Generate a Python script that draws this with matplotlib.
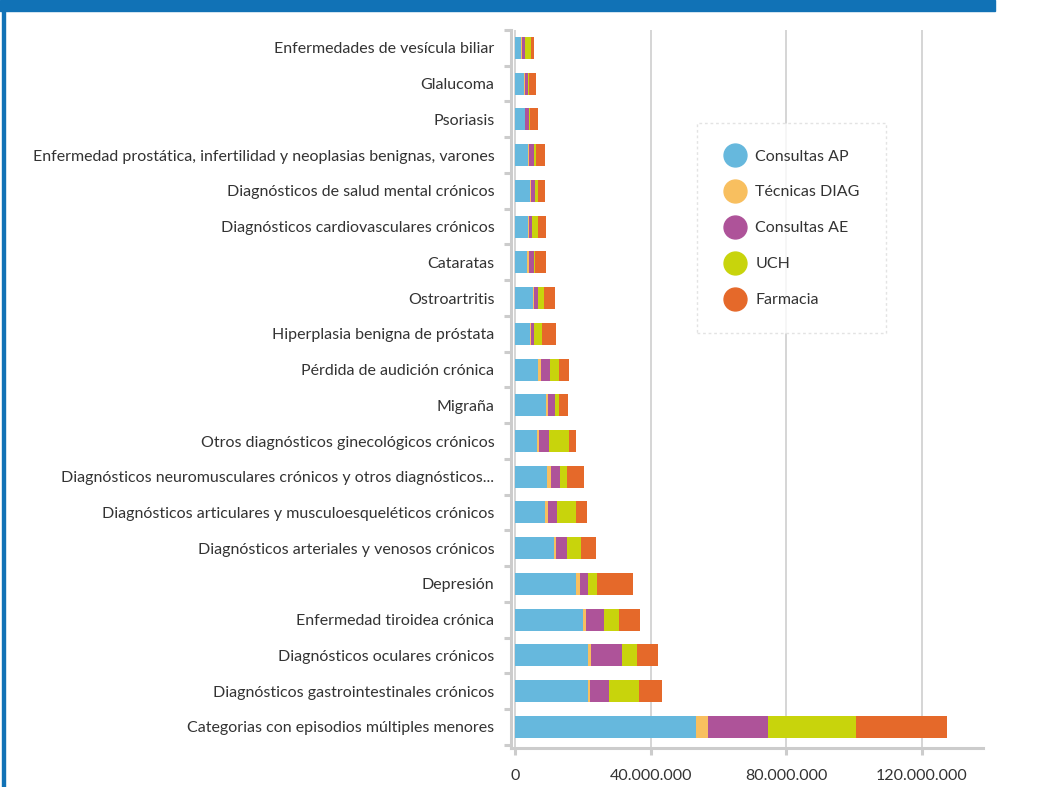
import numpy as np
import matplotlib.pyplot as plt
from matplotlib.patches import Rectangle
from matplotlib.lines import Line2D
from matplotlib.ticker import FuncFormatter

plt.rcParams['font.family'] = ['Lato', 'DejaVu Sans']

categorias = ['Enfermedades de vesícula biliar',
              'Glalucoma',
              'Psoriasis',
              'Enfermedad prostática, infertilidad y neoplasias benignas, varones',
              'Diagnósticos de salud mental crónicos',
              'Diagnósticos cardiovasculares crónicos',
              'Cataratas',
              'Ostroartritis',
              'Hiperplasia benigna de próstata',
              'Pérdida de audición crónica',
              'Migraña',
              'Otros diagnósticos ginecológicos crónicos',
              'Diagnósticos neuromusculares crónicos y otros diagnósticos...',
              'Diagnósticos articulares y musculoesqueléticos crónicos',
              'Diagnósticos arteriales y venosos crónicos',
              'Depresión',
              'Enfermedad tiroidea crónica',
              'Diagnósticos oculares crónicos',
              'Diagnósticos gastrointestinales crónicos',
              'Categorias con episodios múltiples menores']

# millones de euros
consultas_ap = [1.8, 2.7, 2.9, 3.8, 4.4, 3.8, 3.5, 5.3, 4.4, 6.8,
                9.1, 6.5, 9.4, 8.8, 11.5, 18.0, 20.1, 21.5, 21.5, 53.4]
tecnicas_diag = [0.15, 0.15, 0.15, 0.3, 0.3, 0.3, 0.6, 0.3, 0.3, 0.9,
                 0.6, 0.6, 1.2, 0.9, 0.6, 1.2, 0.9, 0.9, 0.6, 3.5]
consultas_ae = [0.9, 0.9, 1.2, 1.5, 1.2, 0.9, 1.5, 1.2, 0.9, 2.7,
                2.1, 2.9, 2.7, 2.7, 3.2, 2.4, 5.3, 9.1, 5.6, 17.7]
uch = [1.8, 0.3, 0.3, 0.6, 0.9, 1.8, 0.3, 1.8, 2.4, 2.7,
       1.2, 5.9, 2.1, 5.6, 4.1, 2.7, 4.4, 4.4, 8.8, 26.0]
farmacia = [0.9, 2.1, 2.1, 2.7, 2.1, 2.4, 3.2, 3.2, 4.1, 2.7,
            2.7, 2.1, 5.0, 3.2, 4.4, 10.6, 6.2, 6.2, 6.8, 26.8]

series = ['Consultas AP', 'Técnicas DIAG', 'Consultas AE', 'UCH', 'Farmacia']
colores = ['#66b8dd', '#f8bf5f', '#ae5399', '#c8d40c', '#e5692a']
valores = [consultas_ap, tecnicas_diag, consultas_ae, uch, farmacia]

fig = plt.figure(figsize=(10.57, 7.87), dpi=100)

# banda azul superior y borde izquierdo
fig.patches.append(Rectangle((0, 1 - 11 / 787), 995 / 1057, 11 / 787,
                             transform=fig.transFigure, color='#1172b6', zorder=0))
fig.patches.append(Rectangle((2 / 1057, 0), 3 / 1057, 1,
                             transform=fig.transFigure, color='#1172b6', zorder=0))

ax = fig.add_axes([511 / 1057, 39 / 787, 472 / 1057, 718 / 787])

y = np.arange(len(categorias))
left = np.zeros(len(categorias))
for nombre, col, vals in zip(series, colores, valores):
    v = np.array(vals) * 1e6
    ax.barh(y, v, left=left, height=0.615, color=col, label=nombre, zorder=3)
    left += v

ax.set_ylim(19.59, -0.5)
ax.set_xlim(-1.18e6, 138e6)

ax.set_yticks(y)
ax.set_yticklabels(categorias, fontsize=11.5, color='#333333')
ax.tick_params(axis='y', which='major', length=0, pad=12)
ax.set_yticks(np.arange(-0.5, 20, 1), minor=True)
ax.tick_params(axis='y', which='minor', length=5, width=2.2, color='#cccccc')

ax.set_xticks([0, 40e6, 80e6, 120e6])
ax.xaxis.set_major_formatter(FuncFormatter(lambda v, p: '0' if v == 0 else f'{v:,.0f}'.replace(',', '.')))
ax.tick_params(axis='x', length=5, width=2.2, color='#cccccc', pad=10,
               labelsize=11.5, labelcolor='#333333')

for s in ['top', 'right']:
    ax.spines[s].set_visible(False)
for s in ['left', 'bottom']:
    ax.spines[s].set_color('#cccccc')
    ax.spines[s].set_linewidth(2.2)

ax.grid(axis='x', color='#d5d5d5', linewidth=1.4, zorder=0)
ax.set_axisbelow(True)

handles = [Line2D([], [], marker='o', linestyle='none', markersize=16.5,
                  markerfacecolor=c, markeredgecolor=c) for c in colores]
leg = ax.legend(handles, series, loc='upper left',
                bbox_to_anchor=(697 / 1057, 1 - 123 / 787), bbox_transform=fig.transFigure,
                fontsize=11.5, frameon=True, fancybox=False, borderpad=1.65,
                labelspacing=1.36, handlelength=1.5, handletextpad=0.5, borderaxespad=0)
leg.get_frame().set_edgecolor('#dddddd')
leg.get_frame().set_linestyle((0, (2, 2)))
leg.get_frame().set_linewidth(1.0)
for t in leg.get_texts():
    t.set_color('#333333')

fig.savefig('out.png', dpi=100)
